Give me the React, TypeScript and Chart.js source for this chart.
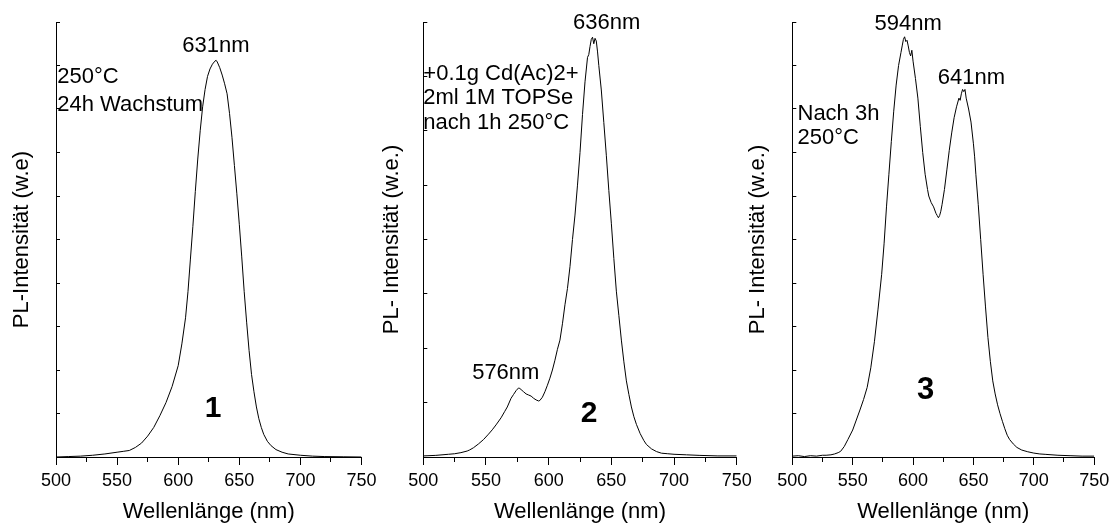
import React, { useEffect, useRef } from 'react';
import { Chart, registerables } from 'chart.js';

Chart.register(...registerables);

const FONT = '"Liberation Sans", Arial, Helvetica, sans-serif';

// ---- Data ----
const wavelengths1 = [500,510,520,530,540,550,555,560,565,570,575,580,585,590,595,600,603,606,608,610,612,614,616,618,620,622,624,626,628,630,631,632,634,636,638,640,642,644,646,648,650,652,654,656,658,660,662,664,666,668,670,673,676,680,685,690,700,710,720,735,750];
const intensity1 = [0.0,0.01,0.02,0.04,0.07,0.11,0.13,0.15,0.22,0.32,0.48,0.68,0.95,1.25,1.62,2.1,2.6,3.2,3.8,4.55,5.3,6.1,6.85,7.5,8.05,8.45,8.75,8.92,9.03,9.1,9.12,9.08,8.95,8.78,8.58,8.35,7.9,7.35,6.7,6.05,5.35,4.6,3.8,3.1,2.45,1.9,1.5,1.15,0.88,0.68,0.52,0.36,0.26,0.17,0.11,0.07,0.04,0.02,0.01,0.005,0.0];

const wavelengths2 = [500,510,520,525,530,535,537,540,544,548,552,555,558,562,565,567,570,572,574,576,577,578,580,582,584,586,588,590,592,593,595,597,599,601,603,605,607,609,611,613,615,617,619,621,623,625,627,629,631,632,633,634,635,636,637,638,639,640,642,644,646,648,650,652,654,656,658,660,662,664,666,668,670,673,676,678,682,686,690,695,700,710,720,735,750];
const intensity2 = [0.02,0.03,0.05,0.06,0.08,0.11,0.13,0.17,0.24,0.32,0.42,0.5,0.59,0.72,0.84,0.92,1.08,1.15,1.22,1.27,1.26,1.24,1.2,1.16,1.14,1.12,1.08,1.05,1.03,1.04,1.1,1.2,1.32,1.45,1.6,1.78,1.98,2.15,2.45,2.8,3.1,3.5,4.0,4.45,5.0,5.6,6.3,6.9,7.35,7.4,7.55,7.68,7.72,7.6,7.7,7.65,7.45,7.2,6.75,6.15,5.55,4.9,4.3,3.65,3.05,2.6,2.15,1.75,1.4,1.15,0.92,0.74,0.6,0.43,0.3,0.23,0.15,0.1,0.07,0.06,0.05,0.04,0.03,0.02,0.02];

const wavelengths3 = [500,505,510,515,520,525,528,532,535,538,540,543,546,550,553,556,559,562,565,568,571,574,576,578,580,582,584,586,588,590,591,592,593,594,595,596,597,598,599,600,602,604,606,608,610,612,613,615,617,619,620,621,622,623,624,626,628,630,632,634,636,638,639,640,641,642,643,644,646,648,650,651,652,654,656,658,660,662,664,666,668,670,672,674,676,678,680,683,686,690,695,700,705,710,720,730,740,750];
const intensity3 = [0.02,0.03,0.01,0.03,0.02,0.04,0.04,0.05,0.07,0.1,0.13,0.24,0.4,0.62,0.85,1.08,1.32,1.6,2.05,2.65,3.4,4.2,4.9,5.75,6.5,7.25,7.95,8.55,9.0,9.3,9.45,9.6,9.66,9.55,9.58,9.45,9.3,9.22,9.35,9.1,8.7,8.25,7.6,7.0,6.5,6.15,6.0,5.85,5.75,5.6,5.55,5.5,5.55,5.65,5.8,6.15,6.6,7.05,7.45,7.8,8.05,8.25,8.2,8.35,8.45,8.4,8.45,8.25,8.0,7.7,7.2,6.9,6.5,5.8,5.0,4.2,3.45,2.75,2.2,1.75,1.45,1.2,1.0,0.82,0.65,0.5,0.4,0.3,0.22,0.16,0.12,0.09,0.07,0.06,0.04,0.03,0.02,0.02];

const xMin = 500;
const xMax = 750;
const xMajorStep = 50;
const xMinorStep = 25;
const xTitle = 'Wellenlänge (nm)';
const yTitles = ['PL-Intensität (w.e)', 'PL- Intensität (w.e.)', 'PL- Intensität (w.e.)'];
const yMaxima = [10, 8, 10];

type Note = { text: string; x: number; y: number; align: CanvasTextAlign; size: number; bold?: boolean };

const notes1: Note[] = [
  { text: '631nm', x: 630.9, y: 9.44, align: 'center', size: 22 },
  { text: '250°C', x: 501.0, y: 8.74, align: 'left', size: 22 },
  { text: '24h Wachstum', x: 501.0, y: 8.1, align: 'left', size: 22 },
  { text: '1', x: 628.5, y: 1.1, align: 'center', size: 30, bold: true },
];
const notes2: Note[] = [
  { text: '636nm', x: 646.3, y: 7.98, align: 'center', size: 22 },
  { text: '+0.1g Cd(Ac)2+', x: 500, y: 7.05, align: 'left', size: 22 },
  { text: '2ml 1M TOPSe', x: 500, y: 6.6, align: 'left', size: 22 },
  { text: 'nach 1h 250°C', x: 500, y: 6.15, align: 'left', size: 22 },
  { text: '576nm', x: 565.8, y: 1.55, align: 'center', size: 22 },
  { text: '2', x: 632.2, y: 0.79, align: 'center', size: 30, bold: true },
];
const notes3: Note[] = [
  { text: '594nm', x: 596.0, y: 9.95, align: 'center', size: 22 },
  { text: '641nm', x: 648.3, y: 8.72, align: 'center', size: 22 },
  { text: 'Nach 3h', x: 504.3, y: 7.88, align: 'left', size: 22 },
  { text: '250°C', x: 504.3, y: 7.34, align: 'left', size: 22 },
  { text: '3', x: 610.5, y: 1.54, align: 'center', size: 31, bold: true },
];

// ---- Layout of the three panels (pixels) ----
const W = 1114;
const H = 527;
const layouts = [
  { padL: 8.4, yWidth: 47.6, padR: 752.5 },
  { padL: 378.4, yWidth: 44.9, padR: 377.3 },
  { padL: 745.1, yWidth: 47.2, padR: 19.7 },
];
const PAD_TOP = 22;
const PAD_BOTTOM = 1.4;
const X_AXIS_HEIGHT = 68.6;

const panels = [
  { wl: wavelengths1, val: intensity1, notes: notes1 },
  { wl: wavelengths2, val: intensity2, notes: notes2 },
  { wl: wavelengths3, val: intensity3, notes: notes3 },
];

const notesPlugin = {
  id: 'notes',
  afterDraw(chart: any, _args: any, opts: any) {
    const items: Note[] = opts.items || [];
    const ctx = chart.ctx;
    const xs = chart.scales.x;
    const ys = chart.scales.y;
    ctx.save();
    ctx.fillStyle = '#000';
    ctx.textBaseline = 'middle';
    for (const n of items) {
      ctx.font = `${n.bold ? 'bold ' : ''}${n.size}px ${FONT}`;
      ctx.textAlign = n.align;
      ctx.fillText(n.text, xs.getPixelForValue(n.x), ys.getPixelForValue(n.y));
    }
    ctx.restore();
  },
};

function Panel({ index }: { index: number }) {
  const ref = useRef<HTMLCanvasElement>(null);
  useEffect(() => {
    const p = panels[index];
    const lay = layouts[index];
    const points = p.wl.map((w, i) => ({ x: w, y: p.val[i] }));
    const chart = new Chart(ref.current!, {
      type: 'line',
      data: {
        datasets: [
          {
            data: points,
            borderColor: '#000',
            borderWidth: 1,
            pointRadius: 0,
            tension: 0,
            fill: false,
          },
        ],
      },
      options: {
        animation: false,
        responsive: false,
        maintainAspectRatio: false,
        devicePixelRatio: 1,
        layout: { padding: { left: lay.padL, right: lay.padR, top: PAD_TOP, bottom: PAD_BOTTOM } },
        plugins: {
          legend: { display: false },
          tooltip: { enabled: false },
          notes: { items: p.notes },
        } as any,
        scales: {
          x: {
            type: 'linear',
            position: 'bottom',
            min: xMin,
            max: xMax,
            ticks: {
              stepSize: xMajorStep,
              color: '#000',
              padding: 4.8,
              maxRotation: 0,
              autoSkip: false,
              font: { family: FONT, size: 18 },
            },
            grid: { drawOnChartArea: false, drawTicks: true, tickLength: 8, color: '#000', lineWidth: 1 },
            border: { display: true, color: '#000', width: 1 },
            title: {
              display: true,
              text: xTitle,
              color: '#000',
              font: { family: FONT, size: 22, lineHeight: 1.2 },
              padding: { top: 0, bottom: 0 },
            },
            afterFit: (s: any) => {
              s.height = X_AXIS_HEIGHT;
            },
          },
          x2: {
            type: 'linear',
            axis: 'x',
            position: { y: 0 },
            min: xMin,
            max: xMax,
            ticks: { display: false, stepSize: xMinorStep },
            grid: { drawOnChartArea: false, drawTicks: true, tickLength: 5, color: '#000', lineWidth: 1 },
            border: { display: false },
          },
          y: {
            type: 'linear',
            position: 'left',
            min: 0,
            max: yMaxima[index],
            ticks: { display: false, stepSize: 1 },
            grid: { drawOnChartArea: false, drawTicks: true, tickLength: -4, color: '#000', lineWidth: 1 },
            border: { display: true, color: '#000', width: 1 },
            title: {
              display: true,
              text: yTitles[index],
              color: '#000',
              font: { family: FONT, size: 22, lineHeight: 1.2 },
              padding: { top: 0, bottom: 0 },
            },
            afterFit: (s: any) => {
              s.width = lay.yWidth;
            },
          },
        } as any,
      },
      plugins: [notesPlugin as any],
    });
    return () => chart.destroy();
  }, [index]);
  return (
    <canvas
      ref={ref}
      width={W}
      height={H}
      style={{ position: 'absolute', left: 0, top: 0, width: W, height: H }}
    />
  );
}

export default function App() {
  return (
    <div style={{ position: 'fixed', left: 0, top: 0, width: W, height: H, background: '#fff' }}>
      <Panel index={0} />
      <Panel index={1} />
      <Panel index={2} />
    </div>
  );
}
